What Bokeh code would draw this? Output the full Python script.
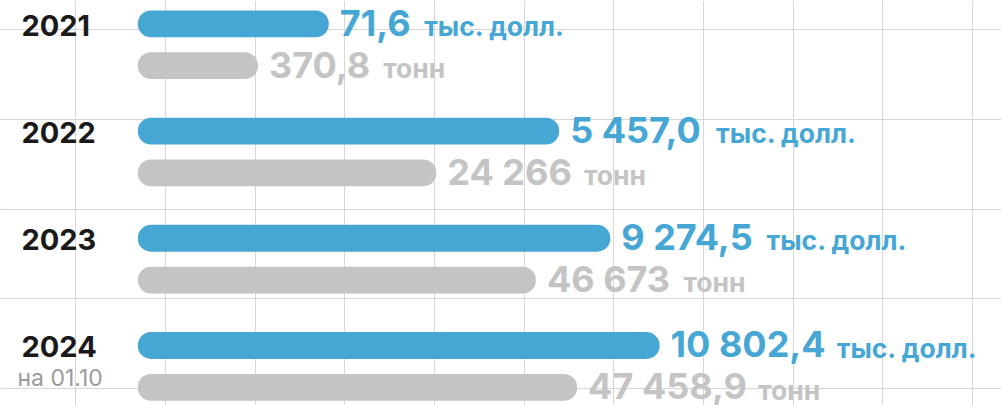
from bokeh.plotting import figure
from bokeh.models import Range1d, Grid, FixedTicker, ColumnDataSource
from bokeh.core.properties import value
from bokeh.embed import file_html
from bokeh.resources import INLINE

# ---------------- data ----------------
years = ["2021", "2022", "2023", "2024"]
year_notes = ["", "", "", "на 01.10"]
value_labels = ["71,6", "5 457,0", "9 274,5", "10 802,4"]
value_unit = "тыс. долл."
weight_labels = ["370,8", "24 266", "46 673", "47 458,9"]
weight_unit = "тонн"
# displayed bar lengths (in grid cells)
value_bar_len = [2.13, 4.70, 5.27, 5.82]
weight_bar_len = [1.34, 3.33, 4.44, 4.90]

# ---------------- layout / style ----------------
W, H = 1001, 405
GRID_PX = 89.65
X_ORIGIN_PX = 75.3
ROW_PX = 107.23
ROW0_PX = 23.3
GRAY_DY = 0.39
BAR_START = 0.692
BAR_H = 0.25
BLUE = "#46a7d5"
GRAY = "#c4c4c4"
GRAY_TXT = "#c4c4c4"
FONT = value("Inter")
NUM_SIZE = 36
UNIT_SIZE = 26.5
NUM_GAP = 11
UNIT_GAP = 12

# approximate advance widths (em) of the bold numeral font
W_EM = {'0': .66, '1': .48, '2': .62, '3': .65, '4': .66, '5': .63, '6': .65,
        '7': .59, '8': .65, '9': .65, ',': .29, ' ': .26, '.': .29}


def text_w(s, size):
    return sum(W_EM.get(c, .6) for c in s) * size


def y_off(base, size):
    # baseline distance below the row centre, corrected for the renderer
    return base - 0.35 * size


p = figure(width=W, height=H, output_backend="svg", toolbar_location=None,
           x_axis_type=None, y_axis_type=None, min_border=0,
           x_range=Range1d(-X_ORIGIN_PX / GRID_PX, (W - X_ORIGIN_PX) / GRID_PX),
           y_range=Range1d((H - ROW0_PX) / ROW_PX, -ROW0_PX / ROW_PX))
p.outline_line_color = None
p.background_fill_color = "white"
p.border_fill_color = "white"

xt = list(range(0, 11))
yt = [(29.3 + k * GRID_PX - ROW0_PX) / ROW_PX for k in range(5)]
p.add_layout(Grid(dimension=0, ticker=FixedTicker(ticks=xt),
                  grid_line_color="#d6d6d6", grid_line_width=1))
p.add_layout(Grid(dimension=1, ticker=FixedTicker(ticks=yt),
                  grid_line_color="#d6d6d6", grid_line_width=1))

idx = list(range(len(years)))
blue_y = [float(i) for i in idx]
gray_y = [i + GRAY_DY for i in idx]
blue_end = [BAR_START + v for v in value_bar_len]
gray_end = [BAR_START + v for v in weight_bar_len]

src_b = ColumnDataSource(dict(
    y=blue_y, end=blue_end, label=value_labels,
    unit=[value_unit] * len(years),
    uoff=[NUM_GAP + text_w(s, NUM_SIZE) + UNIT_GAP for s in value_labels]))
src_g = ColumnDataSource(dict(
    y=gray_y, end=gray_end, label=weight_labels,
    unit=[weight_unit] * len(years),
    uoff=[NUM_GAP + text_w(s, NUM_SIZE) + UNIT_GAP for s in weight_labels]))

for src, col, tcol in ((src_b, BLUE, BLUE), (src_g, GRAY, GRAY_TXT)):
    p.hbar(y="y", left=BAR_START, right="end", height=BAR_H, source=src,
           fill_color=col, line_color=None, border_radius=13)
    p.text(x="end", y="y", text="label", source=src, x_offset=NUM_GAP,
           y_offset=y_off(11.5, NUM_SIZE), text_font=FONT,
           text_font_style="bold", text_font_size=f"{NUM_SIZE}px",
           text_color=tcol, text_baseline="alphabetic", text_align="left")
    p.text(x="end", y="y", text="unit", source=src, x_offset="uoff",
           y_offset=y_off(11.5, UNIT_SIZE), text_font=FONT,
           text_font_style="bold", text_font_size=f"{UNIT_SIZE}px",
           text_color=tcol, text_baseline="alphabetic", text_align="left")

x0 = p.x_range.start
p.text(x=[x0] * len(years), y=blue_y, text=years, x_offset=21,
       y_offset=y_off(11.5, 29), text_font=FONT, text_font_style="bold",
       text_font_size="29px", text_color="#1a1a1a",
       text_baseline="alphabetic", text_align="left")
p.text(x=[x0] * len(years), y=blue_y, text=year_notes, x_offset=17,
       y_offset=y_off(40.5, 23), text_font=FONT, text_font_style="normal",
       text_font_size="23px", text_color="#9a9a9a",
       text_baseline="alphabetic", text_align="left")

open("out.html", "w").write(file_html(p, INLINE))
